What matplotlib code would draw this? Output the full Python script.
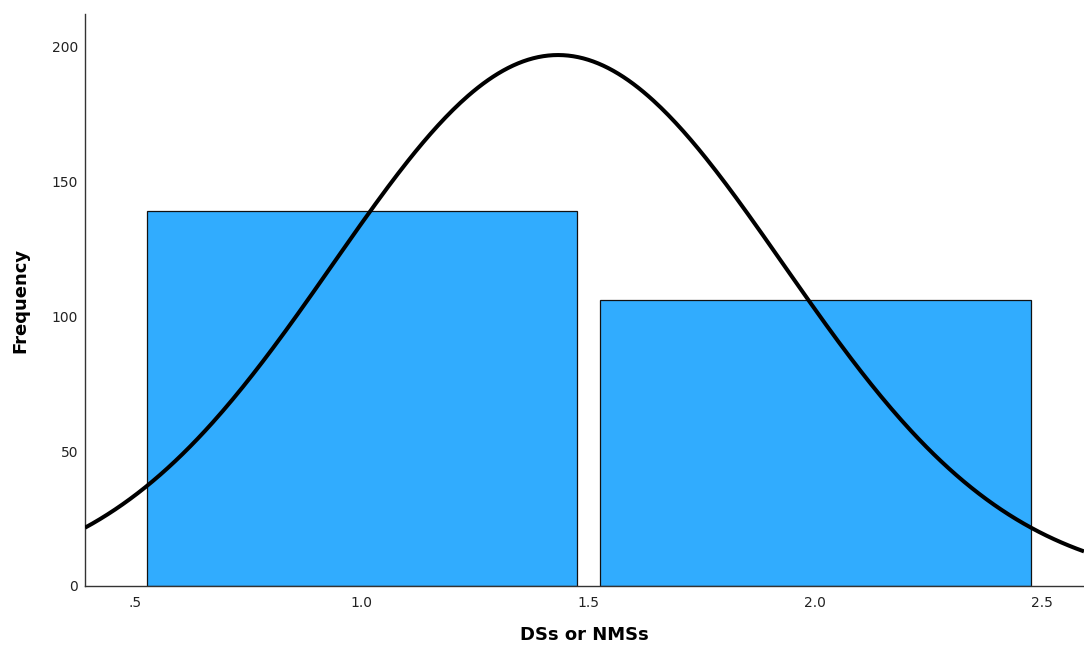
import numpy as np
import matplotlib.pyplot as plt

# Histogram counts per group (1 = DSs, 2 = NMSs)
groups = [1.0, 2.0]
counts = [139, 106]
xticks = [0.5, 1.0, 1.5, 2.0, 2.5]
xtick_labels = [".5", "1.0", "1.5", "2.0", "2.5"]
yticks = [0, 50, 100, 150, 200]

# normal curve fitted to the grouped data
n = sum(counts)
mean = sum(g * c for g, c in zip(groups, counts)) / n
var = sum(c * (g - mean) ** 2 for g, c in zip(groups, counts)) / (n - 1)
sd = np.sqrt(var)
bin_width = 1.0

fig = plt.figure(figsize=(10.84, 6.48), dpi=100)
ax = fig.add_axes([0.0784, 0.0957, 0.9216, 0.8823])

ax.bar(groups, counts, width=0.95, color="#31acfe", edgecolor="#111111",
       linewidth=0.9, zorder=2)

xlim = (0.389, 2.593)
xs = np.linspace(xlim[0], xlim[1], 400)
ys = n * bin_width / (sd * np.sqrt(2 * np.pi)) * np.exp(-0.5 * ((xs - mean) / sd) ** 2)
ax.plot(xs, ys, color="black", linewidth=2.9, zorder=3, solid_capstyle="butt")

ax.set_xlim(*xlim)
ax.set_ylim(0, 212)
ax.set_xticks(xticks)
ax.set_xticklabels(xtick_labels, fontsize=10, color="#222222")
ax.set_yticks(yticks)
ax.set_yticklabels([str(v) for v in yticks], fontsize=10, color="#222222")
ax.tick_params(length=0)
ax.tick_params(axis="y", pad=5)
ax.tick_params(axis="x", pad=7)

for side in ["top", "right"]:
    ax.spines[side].set_visible(False)
for side in ["left", "bottom"]:
    ax.spines[side].set_color("#333333")
    ax.spines[side].set_linewidth(1.0)

ax.set_xlabel("DSs or NMSs", fontsize=13, fontweight="bold", labelpad=12)
ax.set_ylabel("Frequency", fontsize=13, fontweight="bold", labelpad=16)

plt.savefig("out.png", dpi=100)
